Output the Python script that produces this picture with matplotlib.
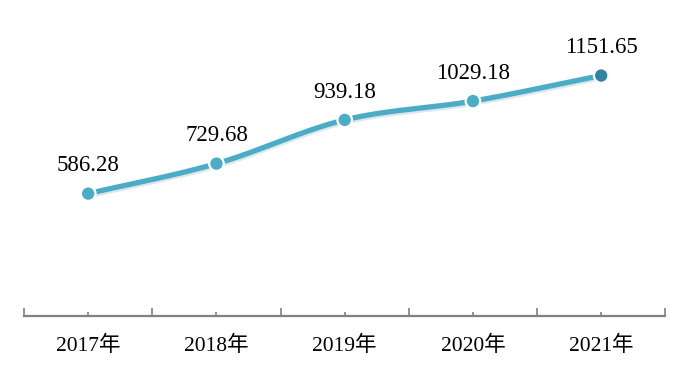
import numpy as np
import matplotlib
matplotlib.use('Agg')
import matplotlib.pyplot as plt
import matplotlib.patheffects as pe

# 数据
years = ['2017年', '2018年', '2019年', '2020年', '2021年']
values = [586.28, 729.68, 939.18, 1029.18, 1151.65]

plt.rcParams['font.family'] = ['Liberation Serif', 'Noto Sans CJK SC']

line_color = '#4BACC6'
last_color = '#31849B'


def smooth(xs, ys, n=40):
    # Catmull-Rom, щоб лінія була плавною як в Excel
    xs = np.asarray(xs, float)
    ys = np.asarray(ys, float)
    px = np.concatenate([[2 * xs[0] - xs[1]], xs, [2 * xs[-1] - xs[-2]]])
    py = np.concatenate([[2 * ys[0] - ys[1]], ys, [2 * ys[-1] - ys[-2]]])
    out_x, out_y = [], []
    t = np.linspace(0, 1, n)
    for i in range(1, len(px) - 2):
        for p, out in ((px, out_x), (py, out_y)):
            p0, p1, p2, p3 = p[i - 1], p[i], p[i + 1], p[i + 2]
            seg = 0.5 * ((2 * p1) + (-p0 + p2) * t +
                         (2 * p0 - 5 * p1 + 4 * p2 - p3) * t ** 2 +
                         (-p0 + 3 * p1 - 3 * p2 + p3) * t ** 3)
            out.extend(seg)
    return np.array(out_x), np.array(out_y)


x = np.arange(len(years))
sx, sy = smooth(x, values)

fig = plt.figure(figsize=(6.88, 3.70), dpi=100)
ax = fig.add_axes([0.035, 0.146, 0.932, 0.79])

ax.plot(sx, sy, color=line_color, lw=3.8, solid_capstyle='round', zorder=2,
        path_effects=[pe.SimpleLineShadow(offset=(0.5, -1.5), shadow_color='#c8d8dc', alpha=0.6),
                      pe.Normal()])
colors = [line_color] * (len(values) - 1) + [last_color]
ax.scatter(x, values, s=110, c=colors, edgecolors='white', linewidths=1.6, zorder=3)

for xi, v in zip(x, values):
    ax.annotate(f'{v:.2f}', (xi, v), xytext=(0, 20), textcoords='offset points',
                ha='center', va='center', fontsize=16.5, color='black')

ax.set_xlim(-0.5, len(years) - 0.5)
ax.set_ylim(0, 1400)

for s in ['top', 'right', 'left']:
    ax.spines[s].set_visible(False)
ax.spines['bottom'].set_color('#808080')
ax.spines['bottom'].set_linewidth(1.6)
ax.set_yticks([])

ax.set_xticks(x)
ax.set_xticklabels(years, fontsize=15.5)
ax.set_xticks(np.arange(-0.5, len(years)), minor=True)
ax.tick_params(axis='x', which='major', direction='in', length=3, width=1.2,
               color='#808080', pad=14)
ax.tick_params(axis='x', which='minor', direction='in', length=6, width=1.2,
               color='#808080')

plt.savefig('out.png', dpi=100)
